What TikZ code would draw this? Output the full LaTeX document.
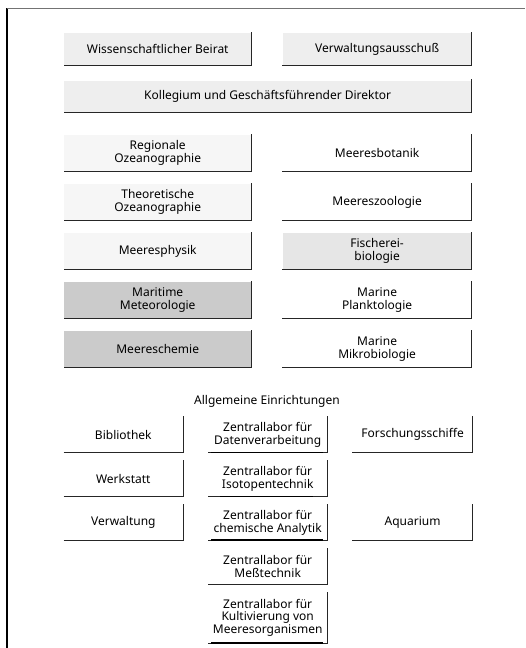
\documentclass[tikz,border=0pt]{standalone}
\usepackage{fontspec}
\setmainfont{Noto Sans}
\usepackage{xcolor}
\usetikzlibrary{positioning}
\definecolor{boardgray}{HTML}{EEEEEE}
\definecolor{palegray}{HTML}{F6F6F6}
\definecolor{fishgray}{HTML}{E6E6E6}
\definecolor{chemgray}{HTML}{CBCBCB}

\begin{document}
\begin{tikzpicture}[
    x=1pt, y=-1pt,
    node distance=12.5pt and 31pt,
    unit/.style={minimum height=36pt, minimum width=188pt, inner sep=0pt, align=center, font=\fontsize{12}{12.8}\selectfont},
    board/.style={unit, minimum height=32pt, fill=boardgray},
    facility/.style={unit, minimum height=35pt, minimum width=119pt},
    edge/.style={line width=0.8pt, black!85},
    heavy/.style={line width=1.6pt, black},
    caption/.style={font=\fontsize{12}{13}\selectfont},
]
\useasboundingbox (0,0) rectangle (525,648);

% Frame
\draw[line width=1.3pt] (7,8) -- (7,648);
\draw[line width=0.6pt, black!55] (7,8) -- (525,8);

% Boards
\node[board, anchor=north west, minimum width=187pt] at (64,33) (beirat) {Wissenschaftlicher Beirat};
\node[board, right=31pt of beirat, minimum width=189pt] (ausschuss) {Verwaltungsausschuß};
\node[board, below right=15pt and 0pt of beirat.south west, minimum width=407pt] (kollegium) {Kollegium und Geschäftsführender Direktor};

% Departments - left column
\node[unit, anchor=north west, minimum width=187pt, fill=palegray] at (64,135) (regional) {Regionale\\Ozeanographie};
\node[unit, below=of regional, minimum width=187pt, fill=palegray] (theorie) {Theoretische\\Ozeanographie};
\node[unit, below=of theorie, minimum width=187pt, fill=palegray] (physik) {Meeresphysik};
\node[unit, below=of physik, minimum width=187pt, fill=chemgray] (meteo) {Maritime\\Meteorologie};
\node[unit, below=of meteo, minimum width=187pt, fill=chemgray] (chemie) {Meereschemie};

% Departments - right column
\node[unit, right=of regional, minimum width=189pt] (botanik) {Meeresbotanik};
\node[unit, right=of theorie, minimum width=189pt] (zoologie) {Meereszoologie};
\node[unit, right=of physik, minimum width=189pt, fill=fishgray] (fischerei) {Fischerei-\\biologie};
\node[unit, right=of meteo, minimum width=189pt] (plankton) {Marine\\Planktologie};
\node[unit, right=of chemie, minimum width=189pt] (mikro) {Marine\\Mikrobiologie};

% General facilities
\node[caption] at (267,401) (allgemein) {Allgemeine Einrichtungen};
\node[facility, anchor=north west] at (208,417) (daten) {Zentrallabor für\\Datenverarbeitung};
\node[facility, below=8.5pt of daten] (isotop) {Zentrallabor für\\Isotopentechnik};
\node[facility, below=8.5pt of isotop] (analytik) {Zentrallabor für\\chemische Analytik};
\node[facility, below=8.5pt of analytik] (mess) {Zentrallabor für\\Meßtechnik};
\node[facility, below=8.5pt of mess, minimum height=50pt] (kultur) {Zentrallabor für\\Kultivierung von\\Meeresorganismen};

\node[facility, left=25pt of daten] (bibliothek) {Bibliothek};
\node[facility, left=25pt of isotop] (werkstatt) {Werkstatt};
\node[facility, left=25pt of analytik] (verwaltung) {Verwaltung};
\node[facility, right=25pt of daten, minimum width=120pt] (schiffe) {Forschungsschiffe};
\node[facility, right=25pt of analytik, minimum width=120pt] (aquarium) {Aquarium};

% Box edges (bottom and right)
\foreach \n in {beirat, ausschuss, kollegium, regional, theorie, physik, meteo, chemie,
    botanik, zoologie, fischerei, plankton, mikro, daten, isotop, analytik, mess, kultur,
    bibliothek, werkstatt, verwaltung, schiffe, aquarium}
  \draw[edge] (\n.south west) -- (\n.south east) -- ([yshift=1pt]\n.north east);

% Heavier bottom strokes
\foreach \n in {daten, analytik, kultur}
  \draw[heavy] ([xshift=3pt]\n.south west) -- ([xshift=-4pt]\n.south east);
\draw[heavy] ([xshift=12pt]isotop.south west) -- ([xshift=-14pt]isotop.south east);

\end{tikzpicture}
\end{document}
